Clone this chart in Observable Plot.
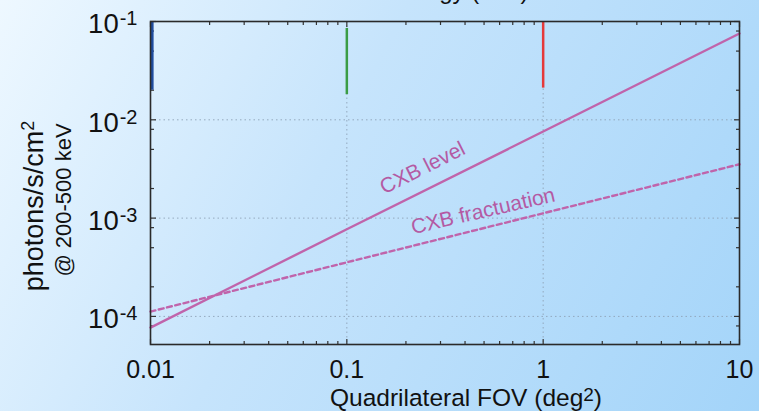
<!DOCTYPE html>
<html><head><meta charset="utf-8">
<script src="https://cdn.jsdelivr.net/npm/d3@7"></script>
<script src="https://cdn.jsdelivr.net/npm/@observablehq/plot@0.6"></script>
<style>
html,body{margin:0;padding:0;}
body{width:759px;height:411px;overflow:hidden;background:linear-gradient(118deg,#eef8ff 0%,#c6e4fc 42%,#a3d4f9 100%);}
#chart{position:absolute;left:0;top:0;}
</style></head><body><div id="chart"></div>
<script>
// ---- data ----
const fov = [0.01, 0.1, 1, 10];
const cxbLevel = [7.7e-5, 7.7e-4, 7.6e-3, 7.55e-2];
const cxbFluct = [1.12e-4, 3.55e-4, 1.12e-3, 3.53e-3];

const bandX = [0.01, 0.1, 1];
const bandTop = [0.1, 0.085, 0.1];
const bandBottom = [0.02, 0.018, 0.021];
const bandColor = ["#1f4c9e", "#3b9c45", "#e5393a"];

const xMajor = [0.01, 0.1, 1, 10];
const xTickLabels = ["0.01", "0.1", "1", "10"];
const xMinorMult = [2, 3, 4, 5, 6, 7, 8, 9];
const yMajor = [1e-1, 1e-2, 1e-3, 1e-4];
const yTickLabels = ["10^-1", "10^-2", "10^-3", "10^-4"];
const yMinorMult = [2, 5, 8];

const labelText = ["CXB level", "CXB fractuation"];
const labelX = [0.243, 0.494];
const labelY = [3.24e-3, 1.18e-3];

const xTitle = "Quadrilateral FOV (deg^2)";
const yTitle = "photons/s/cm^2";
const ySubTitle = "@ 200-500 keV";
const topTitle = "Energy (keV)";

// ---- derived tables ----
const xMinor = [0.01, 0.1, 1].flatMap(d => xMinorMult.map(m => d * m));
const yMinor = [1e-5, 1e-4, 1e-3, 1e-2].flatMap(d => yMinorMult.map(m => d * m)).filter(v => v > 5.18e-5 && v < 0.1);
const lineRows = fov.map((x, i) => ({x, level: cxbLevel[i], fluct: cxbFluct[i]}));
const bandRows = bandX.map((x, i) => ({x, y1: bandBottom[i], y2: bandTop[i], c: bandColor[i]}));

const ink = "#111";
const pink = "#c064ab";
const pinkText = "#b45aa3";
const F = "Liberation Sans, Arial, Helvetica, sans-serif";
const tk = {label: null, stroke: "#333", strokeWidth: 1.2, tickFormat: () => ""};

const chart = Plot.plot({
  width: 759, height: 411,
  marginLeft: 150, marginRight: 20, marginTop: 21, marginBottom: 67,
  style: {background: "transparent", fontFamily: F, color: ink, overflow: "visible"},
  x: {type: "log", domain: [0.01, 10]},
  y: {type: "log", domain: [5.18e-5, 0.1]},
  marks: [
    Plot.gridX({ticks: [0.1, 1], stroke: "#8fa3b8", strokeOpacity: 0.9, strokeDasharray: "1.5,3"}),
    Plot.gridY({ticks: [1e-2, 1e-3, 1e-4], stroke: "#8fa3b8", strokeOpacity: 0.9, strokeDasharray: "1.5,3"}),
    // inward ticks on all four sides
    Plot.axisX({anchor: "bottom", ticks: xMajor, tickSize: -5, ...tk}),
    Plot.axisX({anchor: "bottom", ticks: xMinor, tickSize: -3, ...tk}),
    Plot.axisX({anchor: "top", ticks: xMajor, tickSize: -5, ...tk}),
    Plot.axisX({anchor: "top", ticks: xMinor, tickSize: -3, ...tk}),
    Plot.axisY({anchor: "left", ticks: yMajor, tickSize: -6, ...tk}),
    Plot.axisY({anchor: "left", ticks: yMinor, tickSize: -4, ...tk}),
    Plot.axisY({anchor: "right", ticks: yMajor, tickSize: -6, ...tk}),
    Plot.axisY({anchor: "right", ticks: yMinor, tickSize: -4, ...tk}),
    // tick labels
    Plot.axisX({anchor: "bottom", ticks: xMajor, tickSize: 0, tickPadding: 16, fontSize: 25, label: null,
      tickFormat: d => xTickLabels[xMajor.indexOf(d)], fill: ink}),
    Plot.axisY({anchor: "left", ticks: yMajor, tickSize: 0, tickPadding: 13, fontSize: 27.5, label: null, dy: 3,
      tickFormat: d => yTickLabels[yMajor.indexOf(d)], fill: ink}),
    // colored energy markers
    Plot.ruleX(bandRows.slice(0, 1), {x: "x", y1: "y1", y2: "y2", stroke: "c", strokeWidth: 3, dx: 1.6}),
    Plot.ruleX(bandRows.slice(1), {x: "x", y1: "y1", y2: "y2", stroke: "c", strokeWidth: 2.5}),
    // CXB curves
    Plot.line(lineRows, {x: "x", y: "level", stroke: pink, strokeWidth: 2.4}),
    Plot.line(lineRows, {x: "x", y: "fluct", stroke: pink, strokeWidth: 2.4, strokeDasharray: "5,3.5"}),
    Plot.text([0], {x: () => labelX[0], y: () => labelY[0], text: () => labelText[0], rotate: -26.6, fontSize: 21, fill: pinkText}),
    Plot.text([0], {x: () => labelX[1], y: () => labelY[1], text: () => labelText[1], rotate: -13, fontSize: 21, fill: pinkText}),
    Plot.frame({stroke: "#2a2a2a", strokeWidth: 1.6}),
    // titles
    Plot.text([0], {frameAnchor: "bottom", text: () => xTitle, lineAnchor: "bottom", textAnchor: "middle", dy: 61, dx: 21, fontSize: 24.5, fill: ink}),
    Plot.text([0], {frameAnchor: "left", text: () => yTitle, rotate: -90, lineAnchor: "bottom", textAnchor: "middle", dx: -108, dy: 23, fontSize: 27, fill: ink}),
    Plot.text([0], {frameAnchor: "left", text: () => ySubTitle, rotate: -90, lineAnchor: "bottom", textAnchor: "middle", dx: -80, dy: 17, fontSize: 22, fill: ink}),
    Plot.text([0], {frameAnchor: "top", text: () => topTitle, lineAnchor: "bottom", textAnchor: "end", dx: 83.5, dy: -23, fontSize: 24, fill: ink})
  ]
});

// superscripts as real text
function supify(el, supSize, supDy, supDx) {
  const s = el.textContent;
  const k = s.indexOf("^");
  if (k < 0) return;
  const base = s.slice(0, k);
  const rest = s.slice(k + 1);
  const m = rest.match(/^(-?\d+)(.*)$/);
  const sup = m ? m[1] : rest;
  const tail = m ? m[2] : "";
  const t = d3.select(el);
  t.text(null);
  t.append("tspan").text(base);
  t.append("tspan").attr("font-size", supSize).attr("dy", supDy).attr("dx", supDx).text(sup);
  if (tail) t.append("tspan").attr("dy", -supDy).text(tail);
}
chart.querySelectorAll("text").forEach(el => {
  const s = el.textContent;
  if (!s.includes("^")) return;
  if (s.startsWith("10^")) supify(el, 20, -8, 1);
  else if (s.startsWith("Quadrilateral")) supify(el, 19, -5, 0);
  else if (s.startsWith("photons")) supify(el, 18, -9, 0);
});

document.getElementById("chart").appendChild(chart);
</script></body></html>
